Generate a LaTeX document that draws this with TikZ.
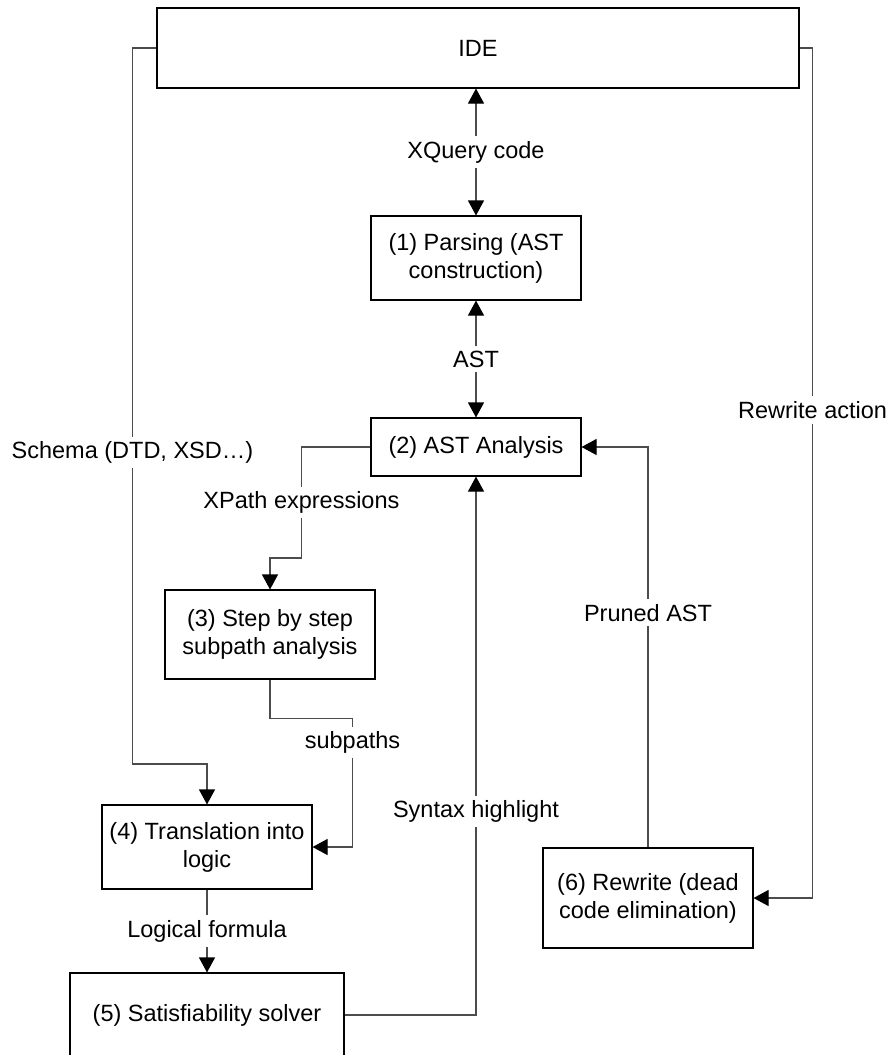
\documentclass[tikz,border=0pt]{standalone}
\usepackage{fontspec}
\setmainfont{Liberation Sans}
\usetikzlibrary{
  shapes,
  calc,
  positioning,
  arrows.meta
}

\tikzset{
  box/.style = {draw, line width=0.55pt, align=center, inner sep=0pt},
  lbl/.style = {fill=white, inner sep=2.5pt},
  link/.style = {draw=black!70, line width=0.55pt}
}

\begin{document}
\begin{tikzpicture}[x=0.5pt, y=-0.5pt,
    >={Triangle[width=8pt,length=7.5pt,color=black,fill=black]},
    font=\fontsize{11.75}{14}\selectfont]
    \useasboundingbox (0,0) rectangle (889,1055);

    \node[box, minimum width=321pt, minimum height=40pt] (ide) at (478,48) {IDE};
    \node[box, minimum width=105pt, minimum height=42pt] (1) at (476,258) {(1) Parsing (AST\\construction)};
    \node[box, minimum width=105pt, minimum height=29pt] (2) at (476,447) {(2) AST Analysis};
    \node[box, minimum width=105pt, minimum height=44.5pt] (3) at (270,634.5) {(3) Step by step\\subpath analysis};
    \node[box, minimum width=105pt, minimum height=42pt] (4) at (207,847) {(4) Translation into\\logic};
    \node[box, minimum width=137pt, minimum height=42pt] (5) at (207,1015) {(5) Satisfiability solver};
    \node[box, minimum width=105pt, minimum height=50pt] (6) at (648,898) {(6) Rewrite (dead\\code elimination)};

    \draw[link,<->] (ide.south -| 1.north) -- node[lbl] {XQuery code} (1.north);
    \draw[link,<->] (1.south) -- node[lbl] {AST} (2.north);
    \draw[link,->] (2.west) -- ++(-69,0) -- node[lbl] {XPath expressions} ++(0,111) -| (3.north);
    \draw[link,->] (3.south) -- ++(0,39) -| node[lbl, pos=0.593] {subpaths} ($(4.east)+(40,0)$) -- (4.east);
    \draw[link,->] (ide.west) -- ++(-24,0) -- node[lbl, pos=0.565] {Schema (DTD, XSD…)} ++(0,716) -| (4.north);
    \draw[link,->] (4.south) -- node[lbl] {Logical formula} (5.north);
    \draw[link,->] (5.east) -| node[lbl, pos=0.689] {Syntax highlight} (2.south);
    \draw[link,->] (6.north) |- node[lbl, pos=0.293] {Pruned AST} (2.east);
    \draw[link,->] (ide.east) -- ++(13,0) |- node[lbl, pos=0.213] {Rewrite action} (6.east);
\end{tikzpicture}
\end{document}
